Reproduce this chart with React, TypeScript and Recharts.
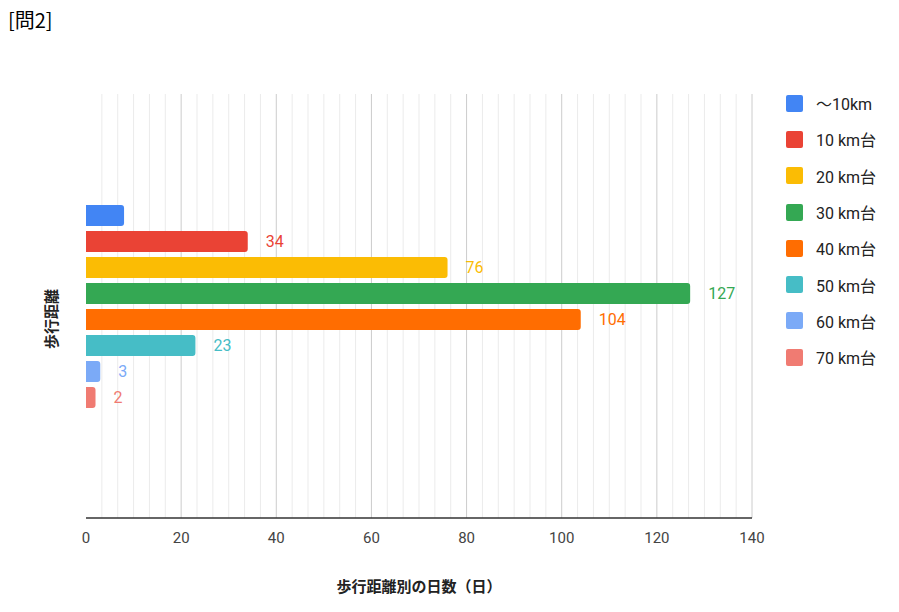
import React from 'react';
import { BarChart, Bar, XAxis, YAxis, CartesianGrid, LabelList } from 'recharts';

const seriesNames = ['～10km', '10 km台', '20 km台', '30 km台', '40 km台', '50 km台', '60 km台', '70 km台'];
const seriesValues = [8, 34, 76, 127, 104, 23, 3, 2];
const seriesColors = ['#4285f4', '#ea4335', '#fbbc04', '#34a853', '#ff6d01', '#46bdc6', '#7baaf7', '#f07b72'];
const showLabel = [false, true, true, true, true, true, true, true];
const category = '歩行距離';
const majorTicks = [0, 20, 40, 60, 80, 100, 120, 140];
const minorPerMajor = 6;

const FONT = 'Roboto, "Noto Sans CJK JP", sans-serif';

// one row, one key per series
const row: Record<string, number | string> = { name: category };
seriesNames.forEach((n, i) => {
  row['s' + i] = seriesValues[i];
});
const data = [row];

const allTicks: number[] = [];
for (let i = 0; i < majorTicks.length - 1; i++) {
  const step = (majorTicks[i + 1] - majorTicks[i]) / minorPerMajor;
  for (let k = 0; k < minorPerMajor; k++) allTicks.push(majorTicks[i] + step * k);
}
allTicks.push(majorTicks[majorTicks.length - 1]);

const gridLine = (p: any) => {
  const major = p.index % minorPerMajor === 0;
  if (p.index === 0) return <g key={p.key} />;
  return (
    <line
      key={p.key}
      x1={p.x1}
      y1={p.y1}
      x2={p.x2}
      y2={p.y2}
      stroke={major ? '#cccccc' : '#ebebeb'}
      strokeWidth={1}
    />
  );
};

export default function App() {
  return (
    <div style={{ position: 'absolute', left: 0, top: 0, width: 899, height: 612, background: '#fff', fontFamily: FONT }}>
      <div style={{ position: 'absolute', left: 8, top: 5, fontSize: 20, color: '#000', fontFamily: '"Noto Sans CJK JP", sans-serif' }}>
        [問2]
      </div>
      <BarChart
        width={899}
        height={612}
        data={data}
        layout="vertical"
        margin={{ top: 94, right: 147, bottom: 64, left: 86 }}
        barCategoryGap="26%"
        barGap={5}
      >
        <CartesianGrid horizontal={false} vertical={gridLine} />
        <XAxis
          type="number"
          domain={[0, 140]}
          ticks={allTicks}
          interval={0}
          height={30}
          tickLine={false}
          axisLine={{ stroke: '#333333', strokeWidth: 1.5 }}
          tick={{ fill: '#444444', fontSize: 15, fontFamily: FONT }}
          tickFormatter={(v: number) => (majorTicks.some((t) => Math.abs(t - v) < 1e-6) ? String(Math.round(v)) : '')}
          tickMargin={8}
        />
        <YAxis
          type="category"
          dataKey="name"
          width={0}
          tick={false}
          tickLine={false}
          axisLine={{ stroke: '#333333', strokeWidth: 1.5 }}
        />
        {seriesNames.map((n, i) => (
          <Bar
            key={n}
            dataKey={'s' + i}
            name={n}
            fill={seriesColors[i]}
            barSize={21}
            radius={[0, 3, 3, 0]}
            isAnimationActive={false}
          >
            {showLabel[i] && (
              <LabelList
                dataKey={'s' + i}
                position="right"
                offset={18}
                fill={seriesColors[i]}
                fontSize={16}
                fontFamily={FONT}
              />
            )}
          </Bar>
        ))}
      </BarChart>
      <div
        style={{
          position: 'absolute',
          left: 50,
          top: 319,
          transform: 'translate(-50%, -50%) rotate(-90deg)',
          fontSize: 15,
          fontWeight: 700,
          color: '#222',
          whiteSpace: 'nowrap',
          fontFamily: '"Noto Sans CJK JP", sans-serif',
        }}
      >
        {category}
      </div>
      <div
        style={{
          position: 'absolute',
          left: 419,
          top: 585,
          transform: 'translate(-50%, -50%)',
          fontSize: 15,
          fontWeight: 700,
          color: '#222',
          whiteSpace: 'nowrap',
          fontFamily: '"Noto Sans CJK JP", sans-serif',
        }}
      >
        歩行距離別の日数（日）
      </div>
      <div style={{ position: 'absolute', left: 786, top: 85 }}>
        {seriesNames.map((n, i) => (
          <div key={n} style={{ display: 'flex', alignItems: 'center', height: 36.3 }}>
            <div style={{ width: 17, height: 17, borderRadius: 2, background: seriesColors[i], marginRight: 13 }} />
            <span style={{ fontSize: 16, color: '#222', fontFamily: FONT }}>{n}</span>
          </div>
        ))}
      </div>
    </div>
  );
}
